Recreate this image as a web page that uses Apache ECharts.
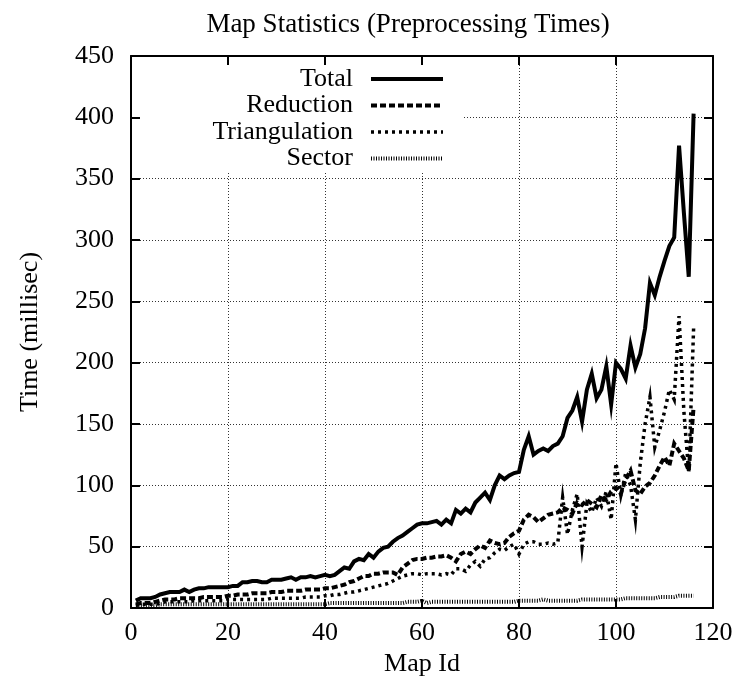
<!DOCTYPE html>
<html>
<head>
<meta charset="utf-8">
<script src="https://cdn.jsdelivr.net/npm/echarts@6/dist/echarts.min.js"></script>
<style>html,body{margin:0;padding:0;background:#fff}#c{width:736px;height:689px}</style>
</head>
<body>
<div id="c"></div>
<script>
var titleText = 'Map Statistics (Preprocessing Times)';
var xName = 'Map Id';
var yName = 'Time (millisec)';
var seriesNames = ['Total', 'Reduction', 'Triangulation', 'Sector'];
var mapIds = [];
for (var i = 1; i <= 116; i++) mapIds.push(i);

var total = [
  6, 8, 8, 8, 9, 11, 12, 13, 13, 13,
  15, 13, 15, 16, 16, 17, 17, 17, 17, 17,
  18, 18, 21, 21, 22, 22, 21, 21, 23, 23,
  23, 24, 25, 23, 25, 25, 26, 25, 26, 27,
  26, 27, 30, 33, 32, 38, 40, 39, 44, 41,
  46, 49, 50, 54, 57, 59, 62, 65, 68, 69,
  69, 70, 71, 68, 72, 69, 80, 77, 81, 78,
  86, 90, 94, 88, 100, 108, 105, 108, 110, 111,
  129, 140, 125, 128, 130, 128, 132, 134, 140, 155,
  161, 172, 152, 178, 191, 171, 178, 197, 166, 200,
  195, 187, 214, 196, 207, 228, 265, 255, 270, 283,
  295, 302, 377, 322, 270, 403
];
var reduction = [
  3, 4, 4, 4, 5, 6, 7, 7, 7, 8,
  8, 8, 8, 8, 9, 9, 9, 9, 9, 10,
  10, 11, 11, 11, 12, 12, 12, 12, 13, 13,
  13, 14, 14, 14, 14, 15, 15, 15, 15, 16,
  16, 17, 18, 19, 21, 22, 24, 26, 26, 28,
  28, 29, 29, 29, 27, 33, 36, 39, 40, 40,
  41, 41, 42, 42, 43, 41, 38, 44, 46, 44,
  48, 51, 49, 55, 53, 52, 53, 58, 61, 63,
  72, 76, 74, 70, 73, 76, 77, 78, 82, 80,
  77, 86, 84, 88, 85, 82, 92, 88, 95, 98,
  93, 105, 112, 96, 93, 99, 102, 108, 116, 123,
  116, 134, 128, 122, 112, 164
];
var triangulation = [
  2, 3, 3, 3, 3, 4, 5, 5, 5, 5,
  5, 5, 6, 6, 6, 6, 6, 6, 6, 7,
  7, 7, 7, 7, 7, 7, 7, 7, 8, 8,
  8, 8, 8, 8, 8, 9, 9, 9, 9, 10,
  10, 11, 11, 12, 13, 13, 14, 15, 16, 17,
  18, 19, 20, 22, 24, 26, 27, 28, 28, 27,
  28, 28, 28, 27, 28, 27, 32, 32, 30, 35,
  38, 34, 40, 41, 45, 48, 47, 50, 52, 44,
  52, 54, 54, 52, 52, 53, 52, 53, 90, 60,
  80, 93, 50, 85, 78, 90, 83, 95, 72, 118,
  92, 110, 100, 72, 118, 150, 172, 131, 145, 160,
  178, 170, 238, 160, 110, 228
];
var sector = [
  2, 2, 2, 2, 2, 3, 3, 3, 3, 3,
  3, 3, 3, 3, 3, 3, 3, 3, 3, 3,
  3, 3, 3, 3, 3, 3, 3, 3, 3, 3,
  3, 3, 3, 3, 3, 3, 3, 3, 3, 3,
  4, 4, 4, 4, 4, 4, 4, 4, 4, 4,
  4, 4, 4, 4, 4, 4, 5, 5, 5, 6,
  4, 5, 5, 5, 5, 5, 5, 5, 5, 5,
  5, 5, 5, 5, 5, 5, 5, 5, 5, 6,
  6, 6, 6, 6, 7, 6, 6, 6, 6, 6,
  6, 6, 7, 7, 7, 7, 7, 7, 7, 7,
  7, 8, 8, 8, 8, 8, 8, 8, 9, 9,
  9, 9, 10, 10, 10, 10
];
var xTicks = { min: 0, max: 120, interval: 20 };
var yTicks = { min: 0, max: 450, interval: 50 };

function pairs(vals) {
  return mapIds.map(function (id, k) { return [id, vals[k]]; });
}

var FONT = '"Liberation Serif", "Times New Roman", serif';
var FS = 26;
var GRID = { left: 131, right: 23, top: 56, bottom: 81 };

var chart = echarts.init(document.getElementById('c'), null, { renderer: 'canvas' });

var axisBase = function (extra) {
  return Object.assign({
    type: 'value',
    gridIndex: 0,
    axisLine: { show: true, onZero: false, lineStyle: { color: '#000', width: 2 } },
    axisTick: { show: true, inside: true, length: 9, lineStyle: { color: '#000', width: 2 } },
    axisLabel: { show: false },
    splitLine: { show: false }
  }, extra);
};

var styles = [
  { width: 4, type: 'solid' },
  { width: 4, type: [6, 3] },
  { width: 3.5, type: [3, 4] },
  { width: 4, type: [1, 1.5] }
];
var seriesData = [total, reduction, triangulation, sector];

var option = {
  animation: false,
  backgroundColor: '#fff',
  title: {
    text: titleText,
    left: 403,
    textAlign: 'center',
    top: 6,
    textStyle: { fontFamily: FONT, fontSize: 27, fontWeight: 'normal', color: '#000' }
  },
  grid: GRID,
  legend: {
    orient: 'vertical',
    align: 'right',
    right: 291,
    top: 66,
    padding: 0,
    itemGap: 0.5,
    itemWidth: 72,
    itemHeight: 14,
    itemStyle: { color: 'rgba(0,0,0,0)', borderWidth: 0, opacity: 0 },
    data: seriesNames.map(function (n, k) {
      return { name: n, lineStyle: { width: styles[k].width, type: styles[k].type, color: '#000' } };
    }),
    textStyle: { fontFamily: FONT, fontSize: FS, color: '#000', lineHeight: 26, padding: [0, 13, 0, 0] }
  },
  graphic: [{
    type: 'rect',
    z: 1,
    silent: true,
    shape: { x: 133, y: 58, width: 329, height: 114 },
    style: { fill: '#fff' }
  }],
  xAxis: [
    axisBase({
      position: 'bottom', min: xTicks.min, max: xTicks.max, interval: xTicks.interval, z: 5,
      name: xName, nameLocation: 'middle', nameGap: 39,
      nameTextStyle: { fontFamily: FONT, fontSize: FS, color: '#000' },
      axisLabel: { show: true, margin: 12, fontFamily: FONT, fontSize: FS, color: '#000' }
    }),
    axisBase({ position: 'top', min: xTicks.min, max: xTicks.max, interval: xTicks.interval, z: 5 }),
    {
      type: 'value', position: 'bottom', min: xTicks.min, max: xTicks.max, interval: xTicks.interval, z: 0,
      axisLine: { show: false }, axisTick: { show: false }, axisLabel: { show: false },
      splitLine: { show: true, lineStyle: { color: '#333', width: 1, type: [1, 2] } }
    }
  ],
  yAxis: [
    axisBase({
      position: 'left', min: yTicks.min, max: yTicks.max, interval: yTicks.interval, z: 5,
      name: yName, nameLocation: 'middle', nameGap: 88,
      nameTextStyle: { fontFamily: FONT, fontSize: FS, color: '#000' },
      axisLabel: { show: true, margin: 17, fontFamily: FONT, fontSize: FS, color: '#000' }
    }),
    axisBase({ position: 'right', min: yTicks.min, max: yTicks.max, interval: yTicks.interval, z: 5 }),
    {
      type: 'value', position: 'left', min: yTicks.min, max: yTicks.max, interval: yTicks.interval, z: 0,
      axisLine: { show: false }, axisTick: { show: false }, axisLabel: { show: false },
      splitLine: { show: true, lineStyle: { color: '#333', width: 1, type: [1, 2] } }
    }
  ],
  series: seriesNames.map(function (n, k) {
    return {
      name: n, type: 'line', data: pairs(seriesData[k]), symbol: 'none', showSymbol: false,
      lineStyle: { color: '#000', width: styles[k].width, type: styles[k].type, join: 'miter' },
      itemStyle: { color: '#000' }
    };
  })
};
chart.setOption(option);
</script>
</body>
</html>
